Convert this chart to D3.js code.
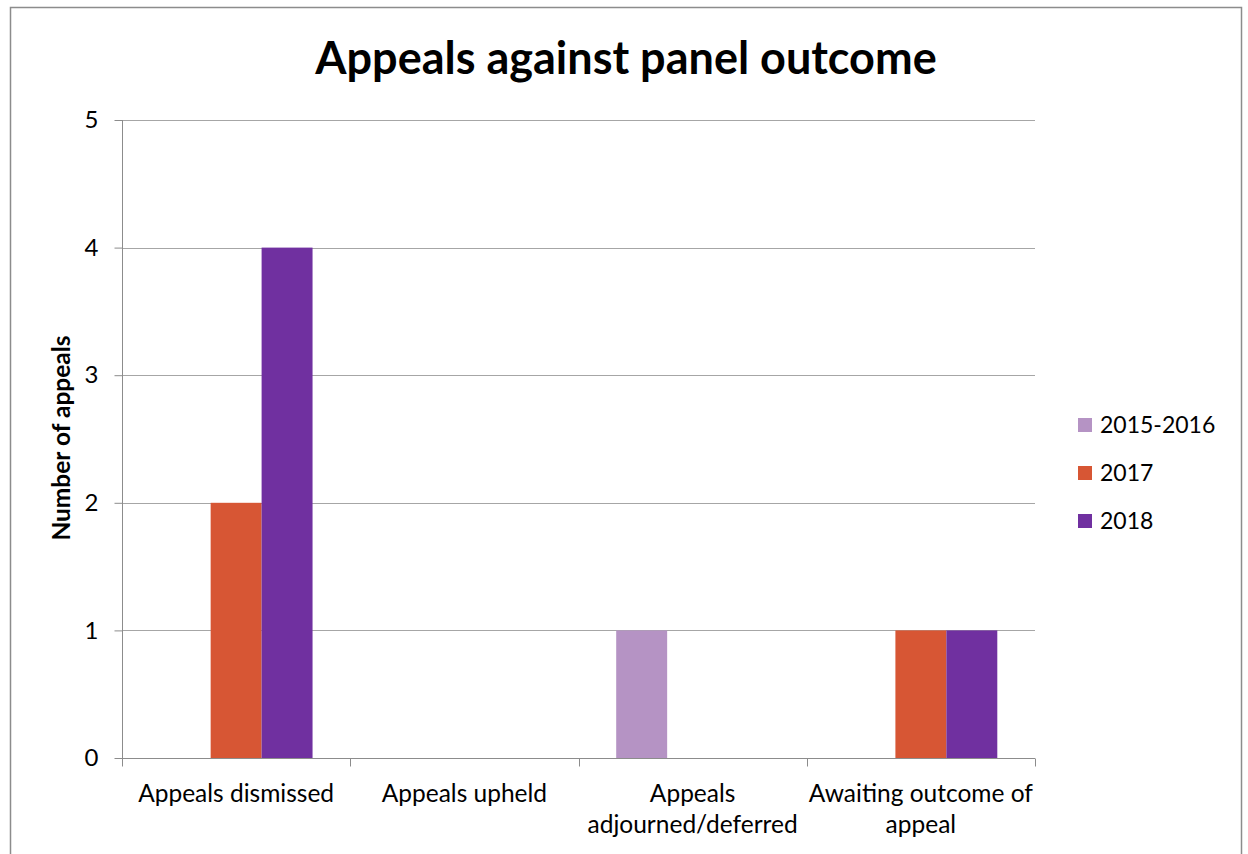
<!DOCTYPE html>
<html>
<head>
<meta charset="utf-8">
<script src="https://cdn.jsdelivr.net/npm/d3@7"></script>
<style>
  html, body { margin: 0; padding: 0; background: #fff; }
  svg { display: block; font-family: Lato, "Open Sans", sans-serif; }
</style>
</head>
<body>
<svg id="chart" width="1248" height="854"></svg>
<script>
// Outcome categories along the x axis
const categories = [
  "Appeals dismissed",
  "Appeals upheld",
  "Appeals adjourned/deferred",
  "Awaiting outcome of appeal"
];
// One series per reporting period
const seriesNames = ["2015-2016", "2017", "2018"];
const values2015_2016 = [0, 0, 1, 0];
const values2017 = [2, 0, 0, 1];
const values2018 = [4, 0, 0, 1];
const seriesColors = ["#b593c4", "#d75634", "#7030a0"];
const yTicks = [0, 1, 2, 3, 4, 5];

const seriesValues = [values2015_2016, values2017, values2018];

const svg = d3.select("#chart");
const plot = { left: 122, right: 1035, top: 120, bottom: 758 };

// Outer chart frame
svg.append("rect")
  .attr("x", 10.5).attr("y", 7.5)
  .attr("width", 1231).attr("height", 900)
  .attr("fill", "#fff")
  .attr("stroke", "#8c8c8c").attr("stroke-width", 1.5);

// Title
svg.append("text")
  .attr("x", 626).attr("y", 74)
  .attr("text-anchor", "middle")
  .attr("font-weight", "bold")
  .attr("font-size", 45)
  .attr("fill", "#000")
  .text("Appeals against panel outcome");

const x0 = d3.scaleBand()
  .domain(categories)
  .range([plot.left, plot.right])
  .paddingInner(0).paddingOuter(0);

const x1 = d3.scaleBand()
  .domain(seriesNames)
  .range([0, x0.bandwidth()])
  .paddingInner(0).paddingOuter(0.74);

const y = d3.scaleLinear()
  .domain([0, 5])
  .range([plot.bottom, plot.top]);

// Horizontal gridlines
svg.append("g")
  .selectAll("line")
  .data(yTicks.filter(d => d > 0))
  .join("line")
  .attr("x1", plot.left).attr("x2", plot.right)
  .attr("y1", d => Math.round(y(d)) + 0.5)
  .attr("y2", d => Math.round(y(d)) + 0.5)
  .attr("stroke", "#a6a6a6").attr("stroke-width", 1);

// Bars
const rows = categories.map((c, i) => ({
  category: c,
  items: seriesNames.map((s, j) => ({ series: s, value: seriesValues[j][i], color: seriesColors[j] }))
}));

svg.append("g")
  .selectAll("g")
  .data(rows)
  .join("g")
  .attr("transform", d => `translate(${x0(d.category)},0)`)
  .selectAll("rect")
  .data(d => d.items.filter(it => it.value > 0))
  .join("rect")
  .attr("x", d => x1(d.series))
  .attr("width", x1.bandwidth())
  .attr("y", d => y(d.value))
  .attr("height", d => y(0) - y(d.value))
  .attr("fill", d => d.color);

// Y axis
const yAxis = d3.axisLeft(y)
  .tickValues(yTicks)
  .tickSize(8)
  .tickPadding(16)
  .tickFormat(d3.format("d"));

const gy = svg.append("g")
  .attr("transform", `translate(${plot.left + 0.5},0)`)
  .call(yAxis);
gy.select(".domain").attr("stroke", "#8c8c8c").attr("d", `M0,${plot.top}V${plot.bottom}`);
gy.selectAll(".tick line").attr("stroke", "#8c8c8c");
gy.selectAll(".tick text")
  .attr("font-size", 24)
  .attr("font-family", "Lato, sans-serif")
  .attr("fill", "#000");

// X axis baseline and category separators
const gx = svg.append("g")
  .attr("transform", `translate(0,${plot.bottom + 0.5})`);
gx.append("line")
  .attr("x1", plot.left).attr("x2", plot.right)
  .attr("stroke", "#8c8c8c");
const boundaries = categories.map(c => x0(c)).concat([plot.right]);
gx.selectAll("line.sep")
  .data(boundaries)
  .join("line")
  .attr("class", "sep")
  .attr("x1", d => Math.round(d) + 0.5).attr("x2", d => Math.round(d) + 0.5)
  .attr("y1", 0).attr("y2", 8)
  .attr("stroke", "#8c8c8c");

// Category labels, wrapped to the band width
const labelSize = 24.5;
const maxLabelWidth = x0.bandwidth() + 4;
gx.selectAll("text.cat")
  .data(categories)
  .join("text")
  .attr("class", "cat")
  .attr("text-anchor", "middle")
  .attr("font-size", labelSize)
  .attr("fill", "#000")
  .each(function(d) {
    const t = d3.select(this);
    const cx = x0(d) + x0.bandwidth() / 2;
    const words = d.split(" ");
    const lines = [];
    let line = [];
    const probe = t.append("tspan");
    words.forEach(w => {
      const trial = line.concat([w]).join(" ");
      probe.text(trial);
      if (probe.node().getComputedTextLength() > maxLabelWidth && line.length) {
        lines.push(line.join(" "));
        line = [w];
      } else {
        line.push(w);
      }
    });
    lines.push(line.join(" "));
    probe.remove();
    lines.forEach((ln, i) => {
      t.append("tspan")
        .attr("x", cx)
        .attr("y", 43 + i * 31)
        .text(ln);
    });
  });

// Y axis title
svg.append("text")
  .attr("transform", "translate(70,438) rotate(-90)")
  .attr("text-anchor", "middle")
  .attr("font-weight", "bold")
  .attr("font-size", 24.5)
  .attr("fill", "#000")
  .text("Number of appeals");

// Legend
const legend = svg.append("g")
  .attr("transform", "translate(1078,418)");
const li = legend.selectAll("g")
  .data(seriesNames)
  .join("g")
  .attr("transform", (d, i) => `translate(0,${i * 48})`);
li.append("rect")
  .attr("width", 14).attr("height", 14)
  .attr("fill", (d, i) => seriesColors[i]);
li.append("text")
  .attr("x", 22).attr("y", 15)
  .attr("font-size", 23)
  .attr("fill", "#000")
  .text(d => d);
</script>
</body>
</html>
